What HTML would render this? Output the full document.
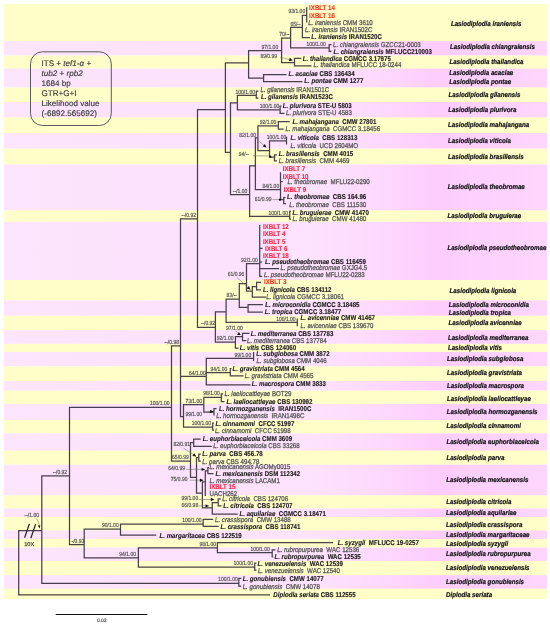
<!DOCTYPE html><html><head><meta charset="utf-8"><style>html,body{margin:0;padding:0;background:#fff;}svg{display:block;filter:blur(0.3px);}text{font-family:"Liberation Sans",Arial,sans-serif;text-rendering:geometricPrecision;}.sp{font-size:6.2px;font-weight:bold;font-style:italic;fill:#141216;stroke:#141216;stroke-width:0.2px;}.lg{font-size:8.1px;fill:#333;stroke:#333;stroke-width:0.12px;}.su{font-size:5.0px;fill:#505050;stroke:#505050;stroke-width:0.15px;}.lb{font-size:6.15px;font-weight:bold;fill:#1e1a1e;stroke:#1e1a1e;stroke-width:0.12px;}.ln{font-size:6.15px;fill:#505050;stroke:#505050;stroke-width:0.22px;}.lr{font-size:6.15px;font-weight:bold;fill:#ff2222;stroke-width:0.1px;}.i{font-style:italic;}</style></head><body>
<svg width="550" height="626" viewBox="0 0 550 626">
<defs><linearGradient id="pg" gradientUnits="userSpaceOnUse" x1="0" y1="0" x2="550" y2="0"><stop offset="0" stop-color="#fde5fd"/><stop offset="0.3" stop-color="#fce2fc"/><stop offset="0.56" stop-color="#fde3fd"/><stop offset="0.69" stop-color="#fdd9fd"/><stop offset="0.79" stop-color="#fdcdfd"/><stop offset="1" stop-color="#fdd6fd"/></linearGradient></defs>
<rect x="0" y="0" width="550" height="626" fill="#fff"/>
<rect x="3.9" y="3.8" width="543.1" height="37.30" fill="#fffec8"/>
<rect x="3.9" y="41.1" width="543.1" height="14.50" fill="url(#pg)"/>
<rect x="3.9" y="55.6" width="543.1" height="13.00" fill="#fffec8"/>
<rect x="3.9" y="68.6" width="543.1" height="19.00" fill="url(#pg)"/>
<rect x="3.9" y="87.6" width="543.1" height="14.40" fill="#fffec8"/>
<rect x="3.9" y="102" width="543.1" height="15.50" fill="url(#pg)"/>
<rect x="3.9" y="117.5" width="543.1" height="15.50" fill="#fffec8"/>
<rect x="3.9" y="133" width="543.1" height="15.70" fill="url(#pg)"/>
<rect x="3.9" y="148.7" width="543.1" height="15.80" fill="#fffec8"/>
<rect x="3.9" y="164.5" width="543.1" height="46.00" fill="url(#pg)"/>
<rect x="3.9" y="210.5" width="543.1" height="11.30" fill="#fffec8"/>
<rect x="3.9" y="221.8" width="543.1" height="58.20" fill="url(#pg)"/>
<rect x="3.9" y="280" width="543.1" height="20.40" fill="#fffec8"/>
<rect x="3.9" y="300.4" width="543.1" height="15.40" fill="url(#pg)"/>
<rect x="3.9" y="315.8" width="543.1" height="14.40" fill="#fffec8"/>
<rect x="3.9" y="330.2" width="543.1" height="13.70" fill="url(#pg)"/>
<rect x="3.9" y="343.9" width="543.1" height="8.10" fill="#fffec8"/>
<rect x="3.9" y="352" width="543.1" height="14.40" fill="url(#pg)"/>
<rect x="3.9" y="366.4" width="543.1" height="14.50" fill="#fffec8"/>
<rect x="3.9" y="380.9" width="543.1" height="9.70" fill="url(#pg)"/>
<rect x="3.9" y="390.6" width="543.1" height="13.30" fill="#fffec8"/>
<rect x="3.9" y="403.9" width="543.1" height="16.10" fill="url(#pg)"/>
<rect x="3.9" y="420" width="543.1" height="13.40" fill="#fffec8"/>
<rect x="3.9" y="433.4" width="543.1" height="17.30" fill="url(#pg)"/>
<rect x="3.9" y="450.7" width="543.1" height="14.00" fill="#fffec8"/>
<rect x="3.9" y="464.7" width="543.1" height="30.70" fill="url(#pg)"/>
<rect x="3.9" y="495.4" width="543.1" height="13.10" fill="#fffec8"/>
<rect x="3.9" y="508.5" width="543.1" height="8.60" fill="url(#pg)"/>
<rect x="3.9" y="517.1" width="543.1" height="13.50" fill="#fffec8"/>
<rect x="3.9" y="530.6" width="543.1" height="8.60" fill="url(#pg)"/>
<rect x="3.9" y="539.2" width="543.1" height="8.40" fill="#fffec8"/>
<rect x="3.9" y="547.6" width="543.1" height="13.40" fill="url(#pg)"/>
<rect x="3.9" y="561" width="543.1" height="14.10" fill="#fffec8"/>
<rect x="3.9" y="575.1" width="543.1" height="13.70" fill="url(#pg)"/>
<rect x="3.9" y="588.8" width="543.1" height="10.20" fill="#fffec8"/>
<rect x="30.5" y="51.8" width="80.8" height="73.7" rx="12" ry="12" fill="none" stroke="#4a4a50" stroke-width="0.9"/>
<text class="lg" x="41.5" y="66.0">ITS + <tspan class="i">tef1-α</tspan> +</text>
<text class="lg" x="41.5" y="75.6"><tspan class="i">tub2</tspan> + <tspan class="i">rpb2</tspan></text>
<text class="lg" x="41.5" y="85.6">1684 bp</text>
<text class="lg" x="41.5" y="96.0">GTR+G+I</text>
<text class="lg" x="41.5" y="106.0">Likelihood value</text>
<text class="lg" x="41.5" y="116.0">(-6892.565692)</text>
<text class="sp" x="450.9" y="26.2" transform="matrix(1 0 0 1.12 0 -3.144)">Lasiodiplodia iraniensis</text>
<text class="sp" x="450" y="49.4" transform="matrix(1 0 0 1.12 0 -5.928)">Lasiodiplodia chiangraiensis</text>
<text class="sp" x="449.6" y="64.1" transform="matrix(1 0 0 1.12 0 -7.692)">Lasiodiplodia thailandica</text>
<text class="sp" x="449.3" y="75.4" transform="matrix(1 0 0 1.12 0 -9.048)">Lasiodiplodia acaciae</text>
<text class="sp" x="449.3" y="84.0" transform="matrix(1 0 0 1.12 0 -10.080)">Lasiodiplodia pontae</text>
<text class="sp" x="448.5" y="96.6" transform="matrix(1 0 0 1.12 0 -11.592)">Lasiodiplodia gilanensis</text>
<text class="sp" x="448.3" y="111.6" transform="matrix(1 0 0 1.12 0 -13.392)">Lasiodiplodia plurivora</text>
<text class="sp" x="448" y="127.3" transform="matrix(1 0 0 1.12 0 -15.276)">Lasiodiplodia mahajangana</text>
<text class="sp" x="448" y="143.0" transform="matrix(1 0 0 1.12 0 -17.160)">Lasiodiplodia viticola</text>
<text class="sp" x="448" y="158.6" transform="matrix(1 0 0 1.12 0 -19.032)">Lasiodiplodia brasiliensis</text>
<text class="sp" x="447.8" y="189.4" transform="matrix(1 0 0 1.12 0 -22.728)">Lasiodiplodia theobromae</text>
<text class="sp" x="447.6" y="217.6" transform="matrix(1 0 0 1.12 0 -26.112)">Lasiodiplodia bruguierae</text>
<text class="sp" x="447.4" y="250.0" transform="matrix(1 0 0 1.12 0 -30.000)">Lasiodiplodia pseudotheobromae</text>
<text class="sp" x="449.6" y="293.1" transform="matrix(1 0 0 1.12 0 -35.172)">Lasiodiplodia lignicola</text>
<text class="sp" x="448.8" y="306.6" transform="matrix(1 0 0 1.12 0 -36.792)">Lasiodiplodia microconidia</text>
<text class="sp" x="448.8" y="315.4" transform="matrix(1 0 0 1.12 0 -37.848)">Lasiodiplodia tropica</text>
<text class="sp" x="448.5" y="325.1" transform="matrix(1 0 0 1.12 0 -39.012)">Lasiodiplodia avicenniae</text>
<text class="sp" x="447.9" y="339.6" transform="matrix(1 0 0 1.12 0 -40.752)">Lasiodiplodia mediterranea</text>
<text class="sp" x="447.9" y="349.6" transform="matrix(1 0 0 1.12 0 -41.952)">Lasiodiplodia vitis</text>
<text class="sp" x="447" y="361.4" transform="matrix(1 0 0 1.12 0 -43.368)">Lasiodiplodia subglobosa</text>
<text class="sp" x="447" y="375.4" transform="matrix(1 0 0 1.12 0 -45.048)">Lasiodiplodia gravistriata</text>
<text class="sp" x="447" y="387.9" transform="matrix(1 0 0 1.12 0 -46.548)">Lasiodiplodia macrospora</text>
<text class="sp" x="447" y="400.6" transform="matrix(1 0 0 1.12 0 -48.072)">Lasiodiplodia laeliocattleyae</text>
<text class="sp" x="446.8" y="414.1" transform="matrix(1 0 0 1.12 0 -49.692)">Lasiodiplodia hormozganensis</text>
<text class="sp" x="446.6" y="428.2" transform="matrix(1 0 0 1.12 0 -51.384)">Lasiodiplodia cinnamomi</text>
<text class="sp" x="446.4" y="444.0" transform="matrix(1 0 0 1.12 0 -53.280)">Lasiodiplodia euphorbiaceicola</text>
<text class="sp" x="446.4" y="459.6" transform="matrix(1 0 0 1.12 0 -55.152)">Lasiodiplodia parva</text>
<text class="sp" x="446.2" y="481.8" transform="matrix(1 0 0 1.12 0 -57.816)">Lasiodiplodia mexicanensis</text>
<text class="sp" x="446.2" y="504.1" transform="matrix(1 0 0 1.12 0 -60.492)">Lasiodiplodia citricola</text>
<text class="sp" x="446" y="515.0" transform="matrix(1 0 0 1.12 0 -61.800)">Lasiodiplodia aquilariae</text>
<text class="sp" x="446" y="526.6" transform="matrix(1 0 0 1.12 0 -63.192)">Lasiodiplodia crassispora</text>
<text class="sp" x="446" y="536.8" transform="matrix(1 0 0 1.12 0 -64.416)">Lasiodiplodia margaritaceae</text>
<text class="sp" x="446" y="545.9" transform="matrix(1 0 0 1.12 0 -65.508)">Lasiodiplodia syzygii</text>
<text class="sp" x="446" y="556.1" transform="matrix(1 0 0 1.12 0 -66.732)">Lasiodiplodia rubropurpurea</text>
<text class="sp" x="446" y="570.2" transform="matrix(1 0 0 1.12 0 -68.424)">Lasiodiplodia venezuelensis</text>
<text class="sp" x="446" y="583.8" transform="matrix(1 0 0 1.12 0 -70.056)">Lasiodiplodia gonubiensis</text>
<text class="sp" x="446" y="596.9" transform="matrix(1 0 0 1.12 0 -71.628)">Diplodia seriata</text>
<path d="M18.7 529.88V595.42 M18.07 530.5H41.8 M18.07 594.8H270 M41.8 475.18V583.92 M41.17 475.8H69.5 M41.17 583.3H238.8 M238.8 577.67V586.62 M238.18 578.3H241.3 M238.18 586.0H241.3 M69.5 406.68V545.12 M68.88 407.3H171.5 M68.88 544.5H84.2 M84.2 528.58V558.42 M83.58 529.2H120.5 M83.58 557.8H138.4 M120.5 523.48V535.83 M119.88 524.1H203.2 M119.88 535.2H156.2 M203.2 518.77V526.92 M202.57 519.4H213.2 M202.57 526.3H218.6 M138.4 547.27V567.62 M137.78 547.9H217.4 M137.78 567.0H254.7 M217.4 541.98V553.12 M216.78 542.6H333.1 M216.78 552.5H272.2 M272.2 549.17V557.42 M271.57 549.8H275.5 M271.57 556.8H273.2 M254.7 562.38V570.62 M254.07 563.0H256.5 M254.07 570.0H256.5 M171.5 345.18V461.82 M170.88 345.8H180.5 M170.88 461.2H190.5 M180.5 218.18V417.23 M179.88 218.8H197.5 M179.88 376.4H206.3 M179.88 416.6H183.5 M206.3 357.77V385.43 M205.68 358.4H253.6 M253.6 351.98V361.02 M205.68 372.5H230.3 M230.3 367.98V376.43 M229.68 368.6H231.5 M229.68 375.8H243.5 M205.68 384.8H250.6 M183.5 404.07V427.62 M182.88 404.7H203.8 M182.88 427.0H212.7 M203.8 396.68V412.62 M203.18 397.3H221.3 M221.3 393.27V402.12 M220.68 393.9H223.2 M220.68 401.5H224.5 M203.18 412.0H214.0 M214.0 407.88V415.52 M213.38 408.5H216.5 M212.7 422.57V430.82 M212.07 423.2H214.0 M212.07 430.2H214.0 M190.5 442.07V477.93 M189.88 442.7H193.7 M193.7 438.57V446.93 M193.07 439.2H200.7 M193.07 446.3H211.8 M189.88 477.3H196.5 M196.5 456.88V493.62 M195.88 457.5H198.8 M198.8 453.57V461.62 M198.18 454.2H200.8 M198.18 461.0H200.8 M195.88 493.0H202.4 M202.4 481.27V508.43 M201.78 481.9H205.3 M205.3 470.18V495.93 M204.68 470.8H207.9 M207.9 466.98V474.32 M207.28 467.6H209.0 M207.28 473.7H213.5 M201.78 507.8H212.3 M212.3 502.07V514.62 M211.68 502.7H218.2 M218.2 498.27V506.52 M217.57 498.9H220.8 M217.57 505.9H221.5 M211.68 514.0H237.7 M197.5 108.88V327.93 M196.88 109.5H225.4 M196.88 327.3H215.4 M215.4 311.18V342.62 M214.78 311.8H226.1 M214.78 342.0H235.4 M226.1 298.57V323.02 M225.47 299.2H239.3 M225.47 322.4H296.9 M297.3 318.48V326.23 M235.4 335.88V348.62 M234.78 336.5H242.5 M234.78 348.0H238.6 M242.5 332.68V341.23 M241.88 333.3H249.5 M241.88 340.6H246.3 M239.3 282.98V308.02 M238.68 283.6H246.5 M238.68 307.4H248.1 M248.1 304.07V312.82 M247.47 304.7H262.9 M247.47 312.2H262.9 M246.5 263.07V291.62 M245.88 263.7H259.7 M259.7 224.88V276.93 M259.07 248.3H262.5 M259.07 262.1H262.1 M259.07 268.6H279.0 M259.07 276.3H262.1 M245.88 291.0H252.3 M252.3 285.98V297.62 M251.68 286.6H256.6 M256.6 281.68V290.52 M255.98 282.3H261.0 M255.98 289.9H261.0 M251.68 297.0H265.9 M225.4 62.27V153.03 M224.78 62.9H248.6 M224.78 152.4H230.5 M248.6 49.98V78.83 M247.97 50.6H281.6 M247.97 78.2H263.6 M263.6 74.08V82.12 M262.98 74.7H286.5 M262.98 81.5H302.5 M281.6 37.38V63.12 M280.98 38.0H290.6 M280.98 62.5H294.5 M294.5 57.77V66.42 M293.88 58.4H301.3 M293.88 65.8H311.5 M290.6 26.77V48.42 M289.98 27.4H302.4 M289.98 47.8H329.2 M329.2 44.08V51.92 M328.57 44.7H331.5 M328.57 51.3H331.5 M302.4 14.68V38.23 M301.77 15.3H306.7 M306.7 7.28V22.43 M301.77 37.6H310.0 M230.5 102.17V195.32 M229.88 102.8H237.4 M229.88 194.7H249.6 M237.4 94.78V110.53 M236.78 95.4H256.3 M236.78 109.9H280.1 M256.3 90.38V98.62 M255.68 91.0H258.5 M255.68 98.0H258.5 M280.1 105.58V114.03 M279.48 106.2H281.5 M279.48 113.4H284.5 M249.6 165.18V217.03 M248.97 165.8H255.4 M248.97 216.4H289.7 M289.7 210.68V219.62 M289.07 211.3H291.0 M289.07 219.0H291.0 M255.4 137.28V190.12 M254.78 137.9H257.9 M254.78 189.5H280.5 M257.9 125.28V151.12 M257.27 125.9H278.3 M278.3 120.88V129.82 M277.68 121.5H289.7 M277.68 129.2H283.7 M257.27 150.5H269.5 M269.5 140.28V157.62 M268.88 140.9H286.5 M286.5 136.78V144.53 M268.88 157.0H274.5 M274.5 154.18V161.43 M273.88 154.8H277.0 M273.88 160.8H277.0 M280.5 172.28V200.22 M279.88 181.6H282.6 M279.88 199.6H283.7 M283.7 196.88V204.12 M283.07 197.5H285.5 M283.07 203.5H285.9" fill="none" stroke="#2a2230" stroke-opacity="0.85" stroke-width="1.25"/>
<path d="M235.2 330.6L237.6 332.6 M252.5 155.9L268.5 155.9 M272.5 199.6L278.5 199.6 M208 411.6L213.6 411.6 M183.5 448.2L196.2 456.4 M189.5 480.2L203.3 480.2 M186.5 469.4L205.0 469.4 M198.7 505.9L208.9 505.9 M198.7 499.5L214.2 499.5 M237.0 277.6L250.3 289.6 M280.0 57.2L292.6 60.3 M256.9 139.6L266.4 147.4" fill="none" stroke="#606060" stroke-width="0.5"/>
<path d="M213.60 411.60L210.20 413.30L210.20 409.90Z" fill="#111"/>
<path d="M196.20 456.40L192.42 455.98L194.27 453.13Z" fill="#111"/>
<path d="M203.30 480.20L199.90 481.90L199.90 478.50Z" fill="#111"/>
<path d="M205.00 469.40L201.60 471.10L201.60 467.70Z" fill="#111"/>
<path d="M208.90 505.90L205.50 507.60L205.50 504.20Z" fill="#111"/>
<path d="M214.20 499.50L210.80 501.20L210.80 497.80Z" fill="#111"/>
<path d="M250.30 289.60L246.64 288.58L248.91 286.06Z" fill="#111"/>
<path d="M292.60 60.30L288.89 61.14L289.70 57.84Z" fill="#111"/>
<path d="M266.40 147.40L262.69 146.56L264.85 143.93Z" fill="#111"/>
<path d="M238.9 331.9 L237.2 334.9 L240.7 334.9Z" fill="#111"/>
<circle cx="270.2" cy="156.6" r="1.2" fill="#111"/>
<circle cx="279.9" cy="199.6" r="1.2" fill="#111"/>
<text class="su" x="24.5" y="517.1" transform="matrix(1 0 0 1.18 0 -93.078)">--/1.00</text>
<text class="su" x="52.7" y="473.9" transform="matrix(1 0 0 1.18 0 -85.302)">--/0.92</text>
<text class="su" x="218.3" y="581.4" transform="matrix(1 0 0 1.18 0 -104.652)">100/1.00</text>
<text class="su" x="150" y="405.4" transform="matrix(1 0 0 1.18 0 -72.972)">100/1.00</text>
<text class="su" x="71.5" y="542.6" transform="matrix(1 0 0 1.18 0 -97.668)">-/0.93</text>
<text class="su" x="102" y="527.3" transform="matrix(1 0 0 1.18 0 -94.914)">90/1.00</text>
<text class="su" x="119.3" y="555.9" transform="matrix(1 0 0 1.18 0 -100.062)">94/1.00</text>
<text class="su" x="182.2" y="522.2" transform="matrix(1 0 0 1.18 0 -93.996)">100/1.00</text>
<text class="su" x="199.4" y="546.0" transform="matrix(1 0 0 1.18 0 -98.280)">98/1.00</text>
<text class="su" x="233.6" y="565.1" transform="matrix(1 0 0 1.18 0 -101.718)">100/1.00</text>
<text class="su" x="250.4" y="550.6" transform="matrix(1 0 0 1.18 0 -99.108)">100/1.00</text>
<text class="su" x="164.5" y="343.9" transform="matrix(1 0 0 1.18 0 -61.902)">--/0.98</text>
<text class="su" x="172.1" y="459.3" transform="matrix(1 0 0 1.18 0 -82.674)">65/0.99</text>
<text class="su" x="181.5" y="216.9" transform="matrix(1 0 0 1.18 0 -39.042)">--/0.92</text>
<text class="su" x="189.0" y="374.5" transform="matrix(1 0 0 1.18 0 -67.410)">64/1.00</text>
<text class="su" x="234.5" y="356.5" transform="matrix(1 0 0 1.18 0 -64.170)">99/1.00</text>
<text class="su" x="210.6" y="370.6" transform="matrix(1 0 0 1.18 0 -66.708)">94/1.00</text>
<text class="su" x="185.4" y="402.8" transform="matrix(1 0 0 1.18 0 -72.504)">73/1.00</text>
<text class="su" x="191.7" y="425.1" transform="matrix(1 0 0 1.18 0 -76.518)">100/1.00</text>
<text class="su" x="203.2" y="395.4" transform="matrix(1 0 0 1.18 0 -71.172)">98/1.00</text>
<text class="su" x="185.4" y="416.0" transform="matrix(1 0 0 1.18 0 -74.880)">99/1.00</text>
<text class="su" x="173.4" y="445.5" transform="matrix(1 0 0 1.18 0 -80.190)">82/0.91</text>
<text class="su" x="170.8" y="480.8" transform="matrix(1 0 0 1.18 0 -86.544)">75/0.90</text>
<text class="su" x="168.3" y="470.0" transform="matrix(1 0 0 1.18 0 -84.600)">64/0.99</text>
<text class="su" x="181.5" y="506.8" transform="matrix(1 0 0 1.18 0 -91.224)">66/0.98</text>
<text class="su" x="181.5" y="500.4" transform="matrix(1 0 0 1.18 0 -90.072)">99/1.00</text>
<text class="su" x="200.7" y="325.4" transform="matrix(1 0 0 1.18 0 -58.572)">--/0.92</text>
<text class="su" x="216.8" y="340.1" transform="matrix(1 0 0 1.18 0 -61.218)">92/1.00</text>
<text class="su" x="226.6" y="297.3" transform="matrix(1 0 0 1.18 0 -53.514)">83/--</text>
<text class="su" x="276.2" y="320.5" transform="matrix(1 0 0 1.18 0 -57.690)">100/1.00</text>
<text class="su" x="226.1" y="329.7" transform="matrix(1 0 0 1.18 0 -59.346)">97/1.00</text>
<text class="su" x="227.7" y="276.2" transform="matrix(1 0 0 1.18 0 -49.716)">61/0.96</text>
<text class="su" x="241.1" y="261.8" transform="matrix(1 0 0 1.18 0 -47.124)">92/1.00</text>
<text class="su" x="261.5" y="48.7" transform="matrix(1 0 0 1.18 0 -8.766)">97/1.00</text>
<text class="su" x="279.2" y="36.1" transform="matrix(1 0 0 1.18 0 -6.498)">70/--</text>
<text class="su" x="260.4" y="58.1" transform="matrix(1 0 0 1.18 0 -10.458)">89/0.99</text>
<text class="su" x="290.4" y="25.5" transform="matrix(1 0 0 1.18 0 -4.590)">65/--</text>
<text class="su" x="306.4" y="45.9" transform="matrix(1 0 0 1.18 0 -8.262)">100/1.00</text>
<text class="su" x="288.5" y="13.4" transform="matrix(1 0 0 1.18 0 -2.412)">93/1.00</text>
<text class="su" x="232.8" y="192.8" transform="matrix(1 0 0 1.18 0 -34.704)">--/1.00</text>
<text class="su" x="235.5" y="93.5" transform="matrix(1 0 0 1.18 0 -16.830)">100/1.00</text>
<text class="su" x="259.8" y="108.0" transform="matrix(1 0 0 1.18 0 -19.440)">100/1.00</text>
<text class="su" x="268.5" y="214.5" transform="matrix(1 0 0 1.18 0 -38.610)">100/1.00</text>
<text class="su" x="239.3" y="137.4" transform="matrix(1 0 0 1.18 0 -24.732)">82/1.00</text>
<text class="su" x="262.5" y="187.6" transform="matrix(1 0 0 1.18 0 -33.768)">84/1.00</text>
<text class="su" x="259.7" y="124.0" transform="matrix(1 0 0 1.18 0 -22.320)">92/1.00</text>
<text class="su" x="266.8" y="139.0" transform="matrix(1 0 0 1.18 0 -25.020)">100/1.00</text>
<text class="su" x="238.7" y="156.1" transform="matrix(1 0 0 1.18 0 -28.098)">94/--</text>
<text class="su" x="254.8" y="201.2" transform="matrix(1 0 0 1.18 0 -36.216)">61/0.99</text>
<text class="lb" x="273.3" y="597.3" transform="matrix(1 0 0 1.14 0 -83.622)"><tspan class="i">Diplodia seriata</tspan> <tspan dx="0.0">CBS 112555</tspan></text>
<text class="lb" x="242.7" y="580.9" transform="matrix(1 0 0 1.14 0 -81.326)"><tspan class="i">L. gonubiensis</tspan> <tspan dx="1.7">CMW 14077</tspan></text>
<text class="ln" x="242.7" y="588.5" transform="matrix(1 0 0 1.14 0 -82.390)"><tspan class="i">L. gonubiensis</tspan> <tspan dx="1.7">CMW 14078</tspan></text>
<text class="lb" x="159.5" y="537.8" transform="matrix(1 0 0 1.14 0 -75.292)"><tspan class="i">L. margaritacea</tspan> <tspan dx="0.0">CBS 122519</tspan></text>
<text class="ln" x="215" y="521.8" transform="matrix(1 0 0 1.14 0 -73.052)"><tspan class="i">L. crassispora</tspan> <tspan dx="1.7">CMW 13488</tspan></text>
<text class="lb" x="220.5" y="528.6" transform="matrix(1 0 0 1.14 0 -74.004)"><tspan class="i">L. crassispora</tspan> <tspan dx="1.7">CBS 118741</tspan></text>
<text class="lb" x="337.7" y="545.3" transform="matrix(1 0 0 1.14 0 -76.342)"><tspan class="i">L. syzygii</tspan> <tspan dx="1.7">MFLUCC 19-0257</tspan></text>
<text class="ln" x="277.2" y="552.0" transform="matrix(1 0 0 1.14 0 -77.280)"><tspan class="i">L. rubropurpurea</tspan> <tspan dx="1.7">WAC 12536</tspan></text>
<text class="lb" x="274.4" y="559.2" transform="matrix(1 0 0 1.14 0 -78.288)"><tspan class="i">L. rubropurpurea</tspan> <tspan dx="1.7">WAC 12535</tspan></text>
<text class="lb" x="257.6" y="566.0" transform="matrix(1 0 0 1.14 0 -79.240)"><tspan class="i">L. venezuelensis</tspan> <tspan dx="1.7">WAC 12539</tspan></text>
<text class="ln" x="257.9" y="573.0" transform="matrix(1 0 0 1.14 0 -80.220)"><tspan class="i">L. venezuelensis</tspan> <tspan dx="1.7">WAC 12540</tspan></text>
<text class="lb" x="256.2" y="355.6" transform="matrix(1 0 0 1.14 0 -49.784)"><tspan class="i">L. subglobosa</tspan> <tspan dx="0.0">CMM 3872</tspan></text>
<text class="ln" x="256.6" y="362.8" transform="matrix(1 0 0 1.14 0 -50.792)"><tspan class="i">L. subglobosa</tspan> <tspan dx="0.0">CMM 4046</tspan></text>
<text class="lb" x="232.6" y="370.8" transform="matrix(1 0 0 1.14 0 -51.912)"><tspan class="i">L. gravistriata</tspan> <tspan dx="0.0">CMM 4564</tspan></text>
<text class="ln" x="244.8" y="378.4" transform="matrix(1 0 0 1.14 0 -52.976)"><tspan class="i">L. gravistriata</tspan> <tspan dx="0.0">CMM 4565</tspan></text>
<text class="lb" x="251.8" y="386.1" transform="matrix(1 0 0 1.14 0 -54.054)"><tspan class="i">L. macrospora</tspan> <tspan dx="0.0">CMM 3833</tspan></text>
<text class="ln" x="224.5" y="396.0" transform="matrix(1 0 0 1.14 0 -55.440)"><tspan class="i">L. laeliocattleyae</tspan> <tspan dx="0.0">BOT29</tspan></text>
<text class="lb" x="226.4" y="403.6" transform="matrix(1 0 0 1.14 0 -56.504)"><tspan class="i">L. laeliocattleyae</tspan> <tspan dx="0.0">CBS 130992</tspan></text>
<text class="lb" x="218.9" y="410.6" transform="matrix(1 0 0 1.14 0 -57.484)"><tspan class="i">L. hormozganensis</tspan> <tspan dx="1.7">IRAN1500C</tspan></text>
<text class="ln" x="216.3" y="417.8" transform="matrix(1 0 0 1.14 0 -58.492)"><tspan class="i">L. hormozganensis</tspan> <tspan dx="1.7">IRAN1498C</tspan></text>
<text class="lb" x="215.5" y="426.0" transform="matrix(1 0 0 1.14 0 -59.640)"><tspan class="i">L. cinnamomi</tspan> <tspan dx="1.7">CFCC 51997</tspan></text>
<text class="ln" x="214.9" y="433.3" transform="matrix(1 0 0 1.14 0 -60.662)"><tspan class="i">L. cinnamomi</tspan> <tspan dx="1.7">CFCC 51998</tspan></text>
<text class="lb" x="202.7" y="440.6" transform="matrix(1 0 0 1.14 0 -61.684)"><tspan class="i">L. euphorbiaceicola</tspan> <tspan dx="0.0">CMM 3609</tspan></text>
<text class="ln" x="213.3" y="448.2" transform="matrix(1 0 0 1.14 0 -62.748)"><tspan class="i">L. euphorbiaceicola</tspan> <tspan dx="0.0">CBS 33268</tspan></text>
<text class="lb" x="202.3" y="456.4" transform="matrix(1 0 0 1.14 0 -63.896)"><tspan class="i">L. parva</tspan> <tspan dx="1.7">CBS 456.78</tspan></text>
<text class="ln" x="202.3" y="463.6" transform="matrix(1 0 0 1.14 0 -64.904)"><tspan class="i">L. parva</tspan> <tspan dx="0.0">CBS 494.78</tspan></text>
<text class="ln" x="209.5" y="469.1" transform="matrix(1 0 0 1.14 0 -65.674)"><tspan class="i">L. mexicanensis</tspan> <tspan dx="0.0">AGOMy0015</tspan></text>
<text class="lb" x="215.5" y="476.4" transform="matrix(1 0 0 1.14 0 -66.696)"><tspan class="i">L. mexicanensis</tspan> <tspan dx="0.0">DSM 112342</tspan></text>
<text class="ln" x="209.5" y="483.3" transform="matrix(1 0 0 1.14 0 -67.662)"><tspan class="i">L. mexicanensis</tspan> <tspan dx="0.0">LACAM1</tspan></text>
<text class="lr" x="209.5" y="489.1" style="fill:#ff2040;stroke:#ff2040" transform="matrix(1 0 0 1.14 0 -68.474)">IXBLT 15</text>
<text class="ln" x="209.5" y="495.5" transform="matrix(1 0 0 1.14 0 -69.370)">UACH262</text>
<text class="ln" x="222.3" y="501.3" transform="matrix(1 0 0 1.14 0 -70.182)"><tspan class="i">L. citricola</tspan> <tspan dx="1.7">CBS 124706</tspan></text>
<text class="lb" x="223.2" y="508.0" transform="matrix(1 0 0 1.14 0 -71.120)"><tspan class="i">L. citricola</tspan> <tspan dx="1.7">CBS 124707</tspan></text>
<text class="lb" x="239.5" y="515.8" transform="matrix(1 0 0 1.14 0 -72.212)"><tspan class="i">L. aquilariae</tspan> <tspan dx="1.7">CGMCC 3.18471</tspan></text>
<text class="lb" x="300.6" y="320.1" transform="matrix(1 0 0 1.14 0 -44.814)"><tspan class="i">L. avicenniae</tspan> <tspan dx="0.0">CMW 41467</tspan></text>
<text class="ln" x="300.6" y="327.6" transform="matrix(1 0 0 1.14 0 -45.864)"><tspan class="i">L. avicenniae</tspan> <tspan dx="0.0">CBS 139670</tspan></text>
<text class="lb" x="239.8" y="349.7" transform="matrix(1 0 0 1.14 0 -48.958)"><tspan class="i">L. vitis</tspan> <tspan dx="0.0">CBS 124060</tspan></text>
<text class="lb" x="250.7" y="335.5" transform="matrix(1 0 0 1.14 0 -46.970)"><tspan class="i">L. mediterranea</tspan> <tspan dx="0.0">CBS 137783</tspan></text>
<text class="ln" x="247.0" y="342.9" transform="matrix(1 0 0 1.14 0 -48.006)"><tspan class="i">L. mediterranea</tspan> <tspan dx="0.0">CBS 137784</tspan></text>
<text class="lb" x="265.3" y="307.0" transform="matrix(1 0 0 1.14 0 -42.980)"><tspan class="i">L. microconidia</tspan> <tspan dx="0.0">CGMCC 3.18485</tspan></text>
<text class="lb" x="264.8" y="314.0" transform="matrix(1 0 0 1.14 0 -43.960)"><tspan class="i">L. tropica</tspan> <tspan dx="0.0">CGMCC 3.18477</tspan></text>
<text class="lr" x="262.9" y="229.2" style="fill:#ff2040;stroke:#ff2040" transform="matrix(1 0 0 1.14 0 -32.088)">IXBLT 12</text>
<text class="lr" x="262.9" y="236.4" style="fill:#ff2040;stroke:#ff2040" transform="matrix(1 0 0 1.14 0 -33.096)">IXBLT 4</text>
<text class="lr" x="262.9" y="243.6" style="fill:#ff2040;stroke:#ff2040" transform="matrix(1 0 0 1.14 0 -34.104)">IXBLT 5</text>
<text class="lr" x="265.1" y="251.2" style="fill:#ff2040;stroke:#ff2040" transform="matrix(1 0 0 1.14 0 -35.168)">IXBLT 6</text>
<text class="lr" x="262.9" y="258.2" style="fill:#ff2040;stroke:#ff2040" transform="matrix(1 0 0 1.14 0 -36.148)">IXBLT 18</text>
<text class="lb" x="265.1" y="263.6" transform="matrix(1 0 0 1.14 0 -36.904)"><tspan class="i">L. pseudotheobromae</tspan> <tspan dx="0.0">CBS 116459</tspan></text>
<text class="ln" x="280.4" y="270.2" transform="matrix(1 0 0 1.14 0 -37.828)"><tspan class="i">L. pseudotheobromae</tspan> <tspan dx="0.0">GXJG4.5</tspan></text>
<text class="ln" x="264.0" y="276.7" transform="matrix(1 0 0 1.14 0 -38.738)"><tspan class="i">L. pseudotheobromae</tspan> <tspan dx="0.0">MFLU22-0283</tspan></text>
<text class="lr" x="264.0" y="284.4" style="fill:#ff3318;stroke:#ff3318" transform="matrix(1 0 0 1.14 0 -39.816)">IXBLT 3</text>
<text class="lb" x="262.9" y="292.0" transform="matrix(1 0 0 1.14 0 -40.880)"><tspan class="i">L. lignicola</tspan> <tspan dx="0.0">CBS 134112</tspan></text>
<text class="ln" x="266.2" y="299.0" transform="matrix(1 0 0 1.14 0 -41.860)"><tspan class="i">L. lignicola</tspan> <tspan dx="0.0">CGMCC 3.18061</tspan></text>
<text class="lb" x="288.4" y="75.8" transform="matrix(1 0 0 1.14 0 -10.612)"><tspan class="i">L. acaciae</tspan> <tspan dx="0.0">CBS 136434</tspan></text>
<text class="lb" x="304.3" y="83.4" transform="matrix(1 0 0 1.14 0 -11.676)"><tspan class="i">L. pontae</tspan> <tspan dx="0.0">CMM 1277</tspan></text>
<text class="lb" x="302.8" y="60.5" transform="matrix(1 0 0 1.14 0 -8.470)"><tspan class="i">L. thailandica</tspan> <tspan dx="0.0">CGMCC 3.17975</tspan></text>
<text class="ln" x="313.6" y="67.3" transform="matrix(1 0 0 1.14 0 -9.422)"><tspan class="i">L. thailandica</tspan> <tspan dx="0.0">MFLUCC 18-0244</tspan></text>
<text class="ln" x="333.0" y="46.6" transform="matrix(1 0 0 1.14 0 -6.524)"><tspan class="i">L. chiangraiensis</tspan> <tspan dx="0.0">GZCC21-0003</tspan></text>
<text class="lb" x="333.5" y="54.1" transform="matrix(1 0 0 1.14 0 -7.574)"><tspan class="i">L. chiangraiensis</tspan> <tspan dx="0.0">MFLUCC210003</tspan></text>
<text class="lr" x="309.1" y="10.4" style="fill:#ff3318;stroke:#ff3318" transform="matrix(1 0 0 1.14 0 -1.456)">IXBLT 14</text>
<text class="lr" x="309.1" y="17.6" style="fill:#ff3318;stroke:#ff3318" transform="matrix(1 0 0 1.14 0 -2.464)">IXBLT 16</text>
<text class="ln" x="308.2" y="24.6" transform="matrix(1 0 0 1.14 0 -3.444)"><tspan class="i">L. iraniensis</tspan> <tspan dx="0.0">CMM 3610</tspan></text>
<text class="ln" x="305.1" y="32.2" transform="matrix(1 0 0 1.14 0 -4.508)"><tspan class="i">L. iraniensis</tspan> <tspan dx="0.0">IRAN1502C</tspan></text>
<text class="lb" x="311.3" y="39.1" transform="matrix(1 0 0 1.14 0 -5.474)"><tspan class="i">L. iraniensis</tspan> <tspan dx="0.0">IRAN1520C</tspan></text>
<text class="ln" x="260.5" y="92.2" transform="matrix(1 0 0 1.14 0 -12.908)"><tspan class="i">L. gilanensis</tspan> <tspan dx="0.0">IRAN1501C</tspan></text>
<text class="lb" x="260.9" y="99.2" transform="matrix(1 0 0 1.14 0 -13.888)"><tspan class="i">L. gilanensis</tspan> <tspan dx="0.0">IRAN1523C</tspan></text>
<text class="lb" x="282.7" y="107.9" transform="matrix(1 0 0 1.14 0 -15.106)"><tspan class="i">L. plurivora</tspan> <tspan dx="0.0">STE-U 5803</tspan></text>
<text class="ln" x="286.0" y="115.1" transform="matrix(1 0 0 1.14 0 -16.114)"><tspan class="i">L. plurivora</tspan> <tspan dx="0.0">STE-U 4583</tspan></text>
<text class="lb" x="292.5" y="214.6" transform="matrix(1 0 0 1.14 0 -30.044)"><tspan class="i">L. bruguierae</tspan> <tspan dx="1.7">CMW 41470</tspan></text>
<text class="ln" x="292.5" y="221.1" transform="matrix(1 0 0 1.14 0 -30.954)"><tspan class="i">L. bruguierae</tspan> <tspan dx="1.7">CMW 41480</tspan></text>
<text class="lb" x="292.4" y="123.6" transform="matrix(1 0 0 1.14 0 -17.304)"><tspan class="i">L. mahajangana</tspan> <tspan dx="1.7">CMW 27801</tspan></text>
<text class="ln" x="285.5" y="131.2" transform="matrix(1 0 0 1.14 0 -18.368)"><tspan class="i">L. mahajangana</tspan> <tspan dx="1.7">CGMCC 3.18456</tspan></text>
<text class="lb" x="290.5" y="140.3" transform="matrix(1 0 0 1.14 0 -19.642)"><tspan class="i">L. viticola</tspan> <tspan dx="1.7">CBS 128313</tspan></text>
<text class="ln" x="290.5" y="148.2" transform="matrix(1 0 0 1.14 0 -20.748)"><tspan class="i">L. viticola</tspan> <tspan dx="1.7">UCD 2604MO</tspan></text>
<text class="lb" x="278.8" y="155.9" transform="matrix(1 0 0 1.14 0 -21.826)"><tspan class="i">L. brasiliensis</tspan> <tspan dx="1.7">CMM 4015</tspan></text>
<text class="ln" x="278.8" y="162.9" transform="matrix(1 0 0 1.14 0 -22.806)"><tspan class="i">L. brasiliensis</tspan> <tspan dx="1.7">CMM 4469</tspan></text>
<text class="lr" x="282.7" y="171.4" style="fill:#ff2040;stroke:#ff2040" transform="matrix(1 0 0 1.14 0 -23.996)">IXBLT 7</text>
<text class="lr" x="282.7" y="178.6" style="fill:#ff2040;stroke:#ff2040" transform="matrix(1 0 0 1.14 0 -25.004)">IXBLT 10</text>
<text class="ln" x="287.5" y="184.0" transform="matrix(1 0 0 1.14 0 -25.760)"><tspan class="i">L. theobromae</tspan> <tspan dx="1.7">MFLU22-0290</tspan></text>
<text class="lr" x="283.8" y="191.6" style="fill:#ff2040;stroke:#ff2040" transform="matrix(1 0 0 1.14 0 -26.824)">IXBLT 9</text>
<text class="lb" x="287.1" y="199.2" transform="matrix(1 0 0 1.14 0 -27.888)"><tspan class="i">L. theobromae</tspan> <tspan dx="1.7">CBS 164.96</tspan></text>
<text class="ln" x="289.3" y="207.4" transform="matrix(1 0 0 1.14 0 -29.036)"><tspan class="i">L. theobromae</tspan> <tspan dx="1.7">CBS 111530</tspan></text>
<path d="M24.6 537.8L29.4 523.8M30.8 538.2L35.6 524.2" stroke="#222" stroke-width="1.2" fill="none"/>
<text class="su" x="24.2" y="545.5" style="font-size:5.6px;stroke-width:0.25px">10X</text>
<path d="M36.4 518.6Q38.8 522 39.2 525" stroke="#606060" stroke-width="0.5" fill="none"/>
<path d="M39.6 528.4L37.9 525.4L40.3 525.2Z" fill="#111"/>
<path d="M55.7 614.5H147.3" stroke="#111" stroke-width="1"/>
<text class="su" x="101.8" y="622.4" text-anchor="middle">0.03</text>
</svg></body></html>
